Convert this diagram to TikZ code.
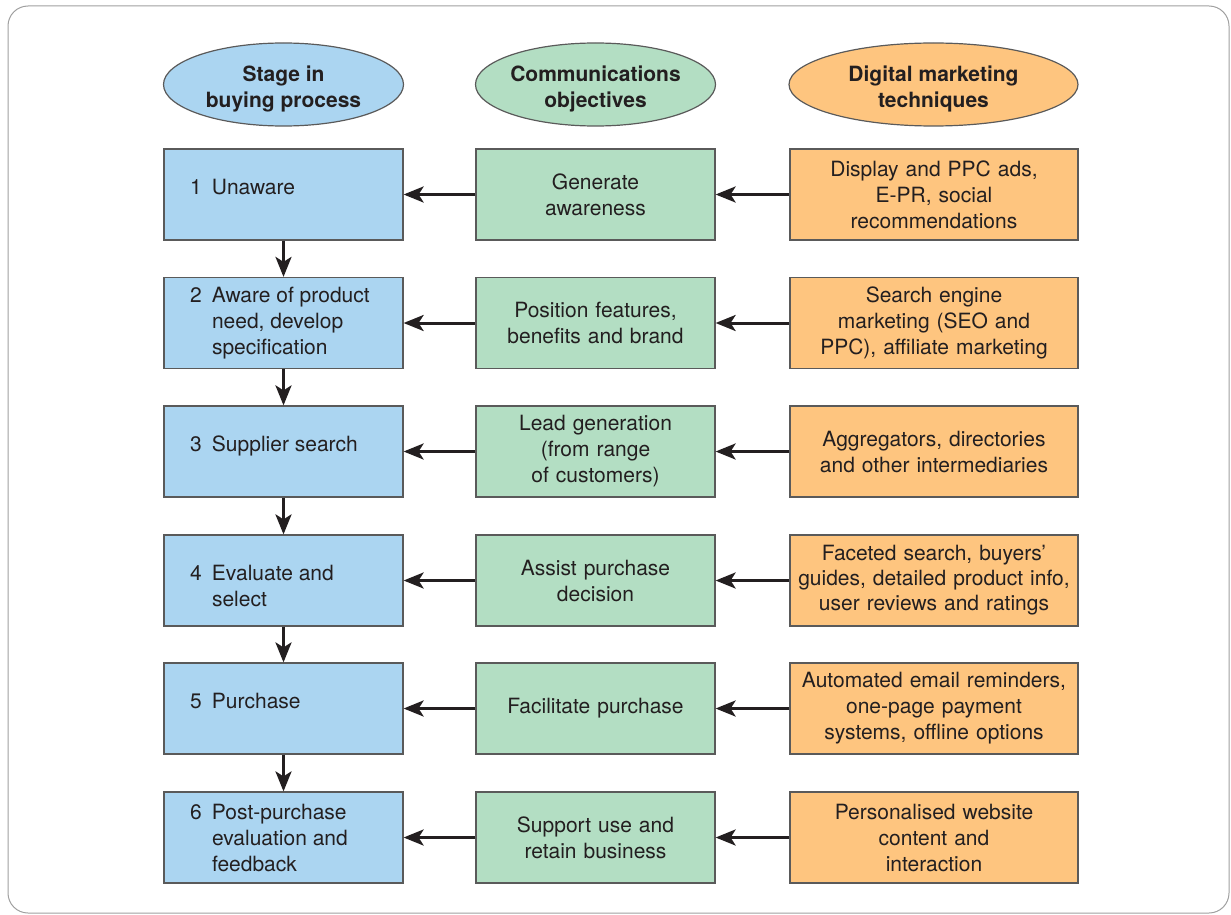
\documentclass[tikz,border=0pt]{standalone}
\usepackage{fontspec}
\setmainfont{TeX Gyre Heros}
\usetikzlibrary{shapes.geometric,arrows.meta}
\definecolor{stageblue}{HTML}{ABD5F1}
\definecolor{objgreen}{HTML}{B3DEC3}
\definecolor{techorange}{HTML}{FEC57F}
\definecolor{edgegray}{HTML}{5A5A5A}
\definecolor{inkcol}{HTML}{231F20}
\definecolor{framegray}{HTML}{A0A0A0}
% a paragraph of given width, moved up (or down) without changing its size
\newcommand\liftpar[3]{\raisebox{#1}[\height][\depth]{\parbox[c]{#2}{#3}}}
% stage text: number in a fixed slot, following lines indented to match
\newcommand\stagenum[1]{\makebox[22pt][l]{#1}}
\newcommand\stageind{\hspace*{22pt}}
\newcommand\stagetext[2]{\liftpar{#1}{187pt}{\raggedright #2}}
% heading text: zero width so the ellipse keeps its set size
\newcommand\headtext[1]{\raisebox{-5pt}[\height][\depth]{\makebox[0pt]{\begin{tabular}{@{}c@{}}#1\end{tabular}}}}
\begin{document}
\begin{tikzpicture}[x=1pt,y=-1pt,
  every node/.style={font=\fontsize{21}{26}\selectfont, text=inkcol},
  boxbase/.style={draw=edgegray, line width=1.2pt, minimum height=91pt, inner sep=0pt},
  stagebox/.style={boxbase, fill=stageblue, minimum width=239pt},
  objbox/.style={boxbase, fill=objgreen, minimum width=239pt, text width=234pt, align=center},
  techbox/.style={boxbase, fill=techorange, minimum width=288pt, text width=286pt, align=center},
  headell/.style={ellipse, draw=edgegray, line width=1.2pt, inner sep=0pt, minimum height=83pt, font=\fontsize{21}{26}\selectfont\bfseries},
  flow/.style={-{Stealth[length=20pt,width=16pt,inset=5pt]}, line width=3pt, draw=inkcol}
]
\useasboundingbox (0,0) rectangle (1231,915);
\draw[framegray, line width=1pt, rounded corners=20pt] (8,6) rectangle (1229,913);

% column headings
\node[headell, fill=stageblue, minimum width=240pt] (h1) at (283.5,84.5) {\headtext{Stage in\\buying process}};
\node[headell, fill=objgreen, minimum width=240pt] (h2) at (595.5,84.5) {\headtext{Communications\\objectives}};
\node[headell, fill=techorange, minimum width=289pt] (h3) at (933.5,84.5) {\headtext{Digital marketing\\techniques}};

% stages of the buying process
\node[stagebox] (s1) at (283.5,194.5) {\stagetext{7.5pt}{\stagenum{1}Unaware}};
\node[stagebox] (s2) at (283.5,323) {\stagetext{0pt}{\stagenum{2}Aware of product\\\stageind need, develop\\\stageind specification}};
\node[stagebox] (s3) at (283.5,451.5) {\stagetext{5.5pt}{\stagenum{3}Supplier search}};
\node[stagebox] (s4) at (283.5,580.5) {\stagetext{-5pt}{\stagenum{4}Evaluate and\\\stageind select}};
\node[stagebox] (s5) at (283.5,708.5) {\stagetext{7.5pt}{\stagenum{5}Purchase}};
\node[stagebox] (s6) at (283.5,837.5) {\stagetext{0pt}{\stagenum{6}Post-purchase\\\stageind evaluation and\\\stageind feedback}};

% communications objectives
\node[objbox] (o1) at (595.5,194.5) {Generate\\awareness};
\node[objbox] (o2) at (595.5,323) {Position features,\\benefits and brand};
\node[objbox] (o3) at (595.5,451.5) {Lead generation\\(from range\\of customers)};
\node[objbox] (o4) at (595.5,580.5) {Assist purchase\\decision};
\node[objbox] (o5) at (595.5,708.5) {Facilitate purchase};
\node[objbox] (o6) at (595.5,837.5) {Support use and\\retain business};

% digital marketing techniques
\node[techbox] (t1) at (934,194.5) {Display and PPC ads,\\E-PR, social\\recommendations};
\node[techbox] (t2) at (934,323) {Search engine\\marketing (SEO and\\PPC), affiliate marketing};
\node[techbox] (t3) at (934,451.5) {Aggregators, directories\\and other intermediaries};
\node[techbox, font=\fontsize{21}{25}\selectfont] (t4) at (934,580.5) {Faceted search, buyers’\\guides, detailed product info,\\user reviews and ratings};
\node[techbox] (t5) at (934,708.5) {Automated email reminders,\\one-page payment\\systems, offline options};
\node[techbox] (t6) at (934,837.5) {Personalised website\\content and\\interaction};

% connectors
\foreach \i in {1,...,6}{
  \draw[flow] (o\i) -- (s\i);
  \draw[flow] (t\i) -- (o\i);
}
\foreach \i/\j in {1/2,2/3,3/4,4/5,5/6}{
  \draw[flow] (s\i) -- (s\j);
}
\end{tikzpicture}
\end{document}
